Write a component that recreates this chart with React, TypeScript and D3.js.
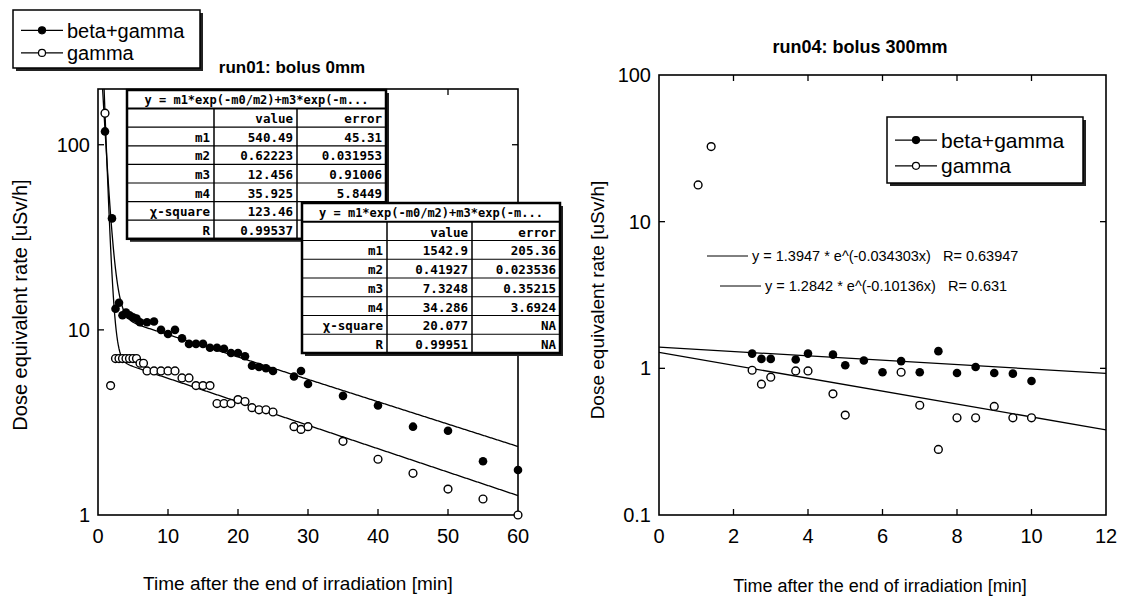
import React from "react";
import * as d3 from "d3";

// run01: bolus 0mm  (time in min, dose rate in uSv/h)
const run01BgTime = [1, 2, 2.5, 3, 3.5, 4, 4.5, 5, 5.5, 6, 7, 8, 9, 10, 11, 12, 13, 14, 15, 16, 17, 18, 19, 20, 21, 22, 23, 24, 25, 28, 29, 30, 35, 40, 45, 50, 55, 60];
const run01BgValue = [118, 40, 13, 14, 12, 12.4, 12, 11.7, 11.5, 11, 11, 11.1, 10, 9.5, 10, 9, 8.4, 8.4, 8.4, 8, 8, 7.9, 7.5, 7.5, 7.2, 6.4, 6.3, 6.2, 6, 5.6, 6, 5.1, 4.4, 3.9, 3, 2.85, 1.95, 1.75];
const run01GTime = [1, 1.8, 2.5, 3, 3.5, 4, 4.5, 5, 5.5, 6, 6.5, 7, 8, 9, 10, 11, 12, 13, 14, 15, 16, 17, 18, 19, 20, 21, 22, 23, 24, 25, 28, 29, 30, 35, 40, 45, 50, 55, 60];
const run01GValue = [148, 5, 7, 7, 7, 7, 7, 7, 7, 6.6, 6.6, 6, 6, 6, 6, 6, 5.5, 5.5, 5, 5, 5, 4, 4, 4, 4.2, 4.1, 3.8, 3.7, 3.7, 3.6, 3, 2.9, 3, 2.5, 2, 1.68, 1.38, 1.22, 1];

// fit parameters m1..m4 of y = m1*exp(-x/m2)+m3*exp(-x/m4)
const run01FitBg = [540.49, 0.62223, 12.456, 35.925];
const run01FitG = [1542.9, 0.41927, 7.3248, 34.286];

const fitHeader = "y = m1*exp(-m0/m2)+m3*exp(-m...";
const fitRowNames = ["m1", "m2", "m3", "m4", "χ-square", "R"];
const fitBgValues = ["540.49", "0.62223", "12.456", "35.925", "123.46", "0.99537"];
const fitBgErrors = ["45.31", "0.031953", "0.91006", "5.8449", "", ""];
const fitGValues = ["1542.9", "0.41927", "7.3248", "34.286", "20.077", "0.99951"];
const fitGErrors = ["205.36", "0.023536", "0.35215", "3.6924", "NA", "NA"];

// run04: bolus 300mm
const run04BgTime = [2.5, 2.75, 3, 3.67, 4, 4.67, 5, 5.5, 6, 6.5, 7, 7.5, 8, 8.5, 9, 9.5, 10];
const run04BgValue = [1.26, 1.16, 1.16, 1.15, 1.26, 1.24, 1.05, 1.13, 0.94, 1.12, 0.94, 1.31, 0.93, 1.02, 0.93, 0.92, 0.82];
const run04GTime = [1.05, 1.4, 2.5, 2.75, 3, 3.67, 4, 4.67, 5, 6.5, 7, 7.5, 8, 8.5, 9, 9.5, 10];
const run04GValue = [17.8, 32.5, 0.97, 0.78, 0.87, 0.96, 0.96, 0.67, 0.48, 0.94, 0.56, 0.28, 0.46, 0.46, 0.55, 0.46, 0.46];

// y = a * e^(-b x)
const run04FitBg = [1.3947, 0.034303];
const run04FitG = [1.2842, 0.10136];
const run04Labels = ["y = 1.3947 * e^(-0.034303x)   R= 0.63947", "y = 1.2842 * e^(-0.10136x)   R= 0.631"];

const leftXTicks = [0, 10, 20, 30, 40, 50, 60];
const leftYTicks = [1, 10, 100];
const rightXTicks = [0, 2, 4, 6, 8, 10, 12];
const rightYTicks = [0.1, 1, 10, 100];

const FONT = "'Liberation Sans', Arial, sans-serif";
const MONO = "'DejaVu Sans Mono', 'Liberation Mono', monospace";

const zip = (xs: number[], ys: number[]) => xs.map((x, i) => [x, ys[i]] as [number, number]);

function FitTable({ x, y, w, c1, c2, rowH, values, errors }: any) {
  const rows = [["", "value", "error"], ...fitRowNames.map((n, i) => [n, values[i], errors[i]])];
  const h = rowH * 8;
  return (
    <g>
      <rect x={x + 3} y={y + 3} width={w} height={h} fill="#222" />
      <rect x={x} y={y} width={w} height={h} fill="#fff" stroke="#000" strokeWidth={2.5} />
      <text x={x + w / 2} y={y + rowH - 5} textAnchor="middle" fontFamily={MONO} fontSize={12} fontWeight="bold">
        {fitHeader}
      </text>
      {d3.range(1, 8).map((r) => (
        <line key={r} x1={x} x2={x + w} y1={y + r * rowH} y2={y + r * rowH} stroke="#000" strokeWidth={r === 1 ? 2 : 1.2} />
      ))}
      <line x1={x + c1} x2={x + c1} y1={y + rowH} y2={y + h} stroke="#000" strokeWidth={1.5} />
      <line x1={x + c2} x2={x + c2} y1={y + rowH} y2={y + h} stroke="#000" strokeWidth={1.5} />
      {rows.map((row, r) =>
        row.map((cell, c) => (
          <text
            key={r + "-" + c}
            x={x + (c === 0 ? c1 : c === 1 ? c2 : w) - 4}
            y={y + (r + 2) * rowH - 4}
            textAnchor="end"
            fontFamily={MONO}
            fontSize={12.5}
            fontWeight="bold"
          >
            {cell}
          </text>
        )),
      )}
    </g>
  );
}

function Legend({ x, y, w, h, fs }: any) {
  const rowY = [y + h * 0.35, y + h * 0.74];
  return (
    <g>
      <rect x={x + 3} y={y + 3} width={w} height={h} fill="#222" />
      <rect x={x} y={y} width={w} height={h} fill="#fff" stroke="#000" strokeWidth={1.5} />
      {["beta+gamma", "gamma"].map((s, i) => (
        <g key={s}>
          <line x1={x + 8} x2={x + 50} y1={rowY[i]} y2={rowY[i]} stroke="#000" strokeWidth={1.2} />
          <circle cx={x + 29} cy={rowY[i]} r={3.5} fill={i === 0 ? "#000" : "#fff"} stroke="#000" strokeWidth={1.2} />
          <text x={x + 54} y={rowY[i] + fs * 0.36} fontFamily={FONT} fontSize={fs}>
            {s}
          </text>
        </g>
      ))}
    </g>
  );
}

export default function App() {
  // left panel
  const xL = d3.scaleLinear().domain([0, 60]).range([98, 518]);
  const yL = d3.scaleLog().domain([1, 200]).range([515, 89]);
  // right panel
  const xR = d3.scaleLinear().domain([0, 12]).range([659, 1106]);
  const yR = d3.scaleLog().domain([0.1, 100]).range([515, 75]);

  const twoExp = (p: number[]) => (t: number) => p[0] * Math.exp(-t / p[1]) + p[2] * Math.exp(-t / p[3]);
  const oneExp = (p: number[]) => (t: number) => p[0] * Math.exp(-p[1] * t);

  const fitTimesL = d3.range(0.2, 60.01, 0.1);
  const lineL = d3
    .line<number[]>()
    .x((d) => xL(d[0]))
    .y((d) => yL(d[1]));
  const lineR = d3
    .line<number[]>()
    .x((d) => xR(d[0]))
    .y((d) => yR(d[1]));

  const fitsL = [run01FitBg, run01FitG].map((p) => fitTimesL.map((t) => [t, twoExp(p)(t)]));
  const fitsR = [run04FitBg, run04FitG].map((p) => [0, 12].map((t) => [t, oneExp(p)(t)]));

  const frame = (x0: number, x1: number, y0: number, y1: number) => (
    <rect x={x0} y={y0} width={x1 - x0} height={y1 - y0} fill="none" stroke="#000" strokeWidth={1.6} />
  );

  const tick = 6;

  return (
    <svg width={1121} height={599} style={{ position: "absolute", left: 0, top: 0, background: "#fff" }}>
      <defs>
        <clipPath id="clipL">
          <rect x={98} y={89} width={420} height={426} />
        </clipPath>
        <clipPath id="clipR">
          <rect x={659} y={75} width={447} height={440} />
        </clipPath>
      </defs>

      {/* ---------- left: run01 ---------- */}
      {frame(98, 518, 89, 515)}
      {leftXTicks.slice(1, -1).map((t) => (
        <g key={"lx" + t}>
          <line x1={xL(t)} x2={xL(t)} y1={515} y2={515 - tick} stroke="#000" strokeWidth={1.3} />
          <line x1={xL(t)} x2={xL(t)} y1={89} y2={89 + tick} stroke="#000" strokeWidth={1.3} />
        </g>
      ))}
      {leftXTicks.map((t) => (
        <text key={"lxl" + t} x={xL(t)} y={543} textAnchor="middle" fontFamily={FONT} fontSize={20}>
          {t}
        </text>
      ))}
      {leftYTicks.map((t) => (
        <g key={"ly" + t}>
          {t !== 1 && <line x1={98} x2={98 + tick} y1={yL(t)} y2={yL(t)} stroke="#000" strokeWidth={1.3} />}
          {t !== 1 && <line x1={518} x2={518 - tick} y1={yL(t)} y2={yL(t)} stroke="#000" strokeWidth={1.3} />}
          <text x={90} y={yL(t) + 7} textAnchor="end" fontFamily={FONT} fontSize={20}>
            {t}
          </text>
        </g>
      ))}
      <g clipPath="url(#clipL)">
        {fitsL.map((d, i) => (
          <path key={i} d={lineL(d) || ""} fill="none" stroke="#000" strokeWidth={1.3} />
        ))}
      </g>
      {zip(run01BgTime, run01BgValue).map(([t, v], i) => (
        <circle key={"lb" + i} cx={xL(t)} cy={yL(v)} r={4.3} fill="#000" />
      ))}
      {zip(run01GTime, run01GValue).map(([t, v], i) => (
        <circle key={"lg" + i} cx={xL(t)} cy={yL(v)} r={3.9} fill="#fff" stroke="#000" strokeWidth={1.4} />
      ))}
      <text x={27} y={305} transform="rotate(-90 27 305)" textAnchor="middle" fontFamily={FONT} fontSize={20}>
        Dose equivalent rate [uSv/h]
      </text>
      <text x={298} y={590} textAnchor="middle" fontFamily={FONT} fontSize={19}>
        Time after the end of irradiation [min]
      </text>
      <text x={292} y={73} textAnchor="middle" fontFamily={FONT} fontSize={17} fontWeight="bold">
        run01: bolus 0mm
      </text>

      <FitTable x={127} y={90} w={259} c1={87} c2={170} rowH={18.6} values={fitBgValues} errors={fitBgErrors} />
      <FitTable x={302} y={203} w={258} c1={85} c2={170} rowH={18.75} values={fitGValues} errors={fitGErrors} />

      <Legend x={13} y={10} w={187} h={58} fs={20} />

      {/* ---------- right: run04 ---------- */}
      {frame(659, 1106, 75, 515)}
      {rightXTicks.slice(1, -1).map((t) => (
        <g key={"rx" + t}>
          <line x1={xR(t)} x2={xR(t)} y1={515} y2={515 - tick} stroke="#000" strokeWidth={1.3} />
          <line x1={xR(t)} x2={xR(t)} y1={75} y2={75 + tick} stroke="#000" strokeWidth={1.3} />
        </g>
      ))}
      {rightXTicks.map((t) => (
        <text key={"rxl" + t} x={xR(t)} y={543} textAnchor="middle" fontFamily={FONT} fontSize={20}>
          {t}
        </text>
      ))}
      {rightYTicks.map((t) => (
        <g key={"ry" + t}>
          {t !== 0.1 && t !== 100 && (
            <>
              <line x1={659} x2={659 + tick} y1={yR(t)} y2={yR(t)} stroke="#000" strokeWidth={1.3} />
              <line x1={1106} x2={1106 - tick} y1={yR(t)} y2={yR(t)} stroke="#000" strokeWidth={1.3} />
            </>
          )}
          <text x={651} y={yR(t) + 7} textAnchor="end" fontFamily={FONT} fontSize={20}>
            {t}
          </text>
        </g>
      ))}
      <g clipPath="url(#clipR)">
        {fitsR.map((d, i) => (
          <path key={i} d={lineR(d) || ""} fill="none" stroke="#000" strokeWidth={1.3} />
        ))}
      </g>
      {zip(run04BgTime, run04BgValue).map(([t, v], i) => (
        <circle key={"rb" + i} cx={xR(t)} cy={yR(v)} r={4.3} fill="#000" />
      ))}
      {zip(run04GTime, run04GValue).map(([t, v], i) => (
        <circle key={"rg" + i} cx={xR(t)} cy={yR(v)} r={3.9} fill="#fff" stroke="#000" strokeWidth={1.4} />
      ))}
      {run04Labels.map((s, i) => (
        <g key={s}>
          <line x1={707 + i * 13} x2={748 + i * 13} y1={256 + i * 30} y2={256 + i * 30} stroke="#000" strokeWidth={1} />
          <text x={752 + i * 13} y={261 + i * 30} fontFamily={FONT} fontSize={14.5} style={{ whiteSpace: "pre" }}>
            {s}
          </text>
        </g>
      ))}
      <Legend x={887} y={117} w={196} h={66} fs={21} />
      <text x={604} y={300} transform="rotate(-90 604 300)" textAnchor="middle" fontFamily={FONT} fontSize={19}>
        Dose equivalent rate [uSv/h]
      </text>
      <text x={880} y={592} textAnchor="middle" fontFamily={FONT} fontSize={18}>
        Time after the end of irradiation [min]
      </text>
      <text x={860} y={53} textAnchor="middle" fontFamily={FONT} fontSize={18} fontWeight="bold">
        run04: bolus 300mm
      </text>
    </svg>
  );
}
